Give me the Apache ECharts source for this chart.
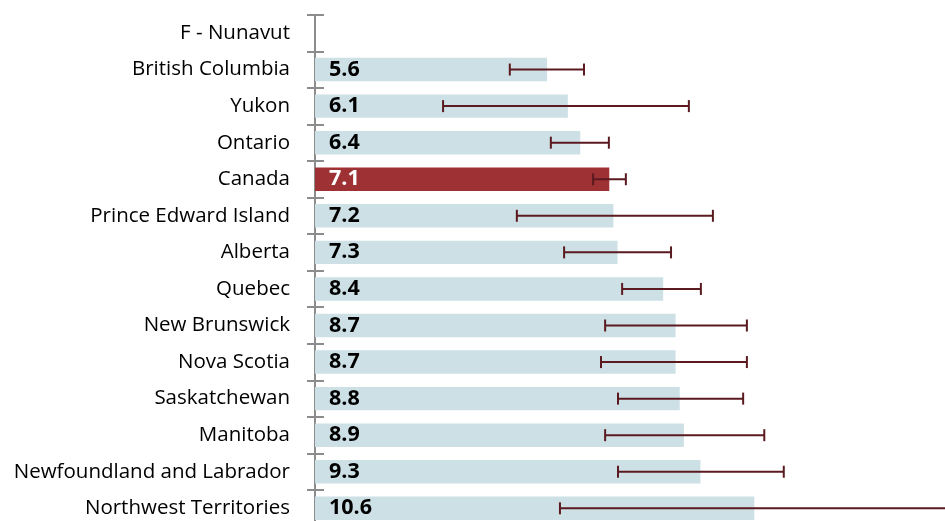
<!DOCTYPE html>
<html><head><meta charset="utf-8">
<script src="https://cdn.jsdelivr.net/npm/echarts@6/dist/echarts.min.js"></script>
<style>html,body{margin:0;padding:0;background:#fff}#c{width:945px;height:521px}</style>
</head><body><div id="c"></div>
<script>
const categories = ["F - Nunavut","British Columbia","Yukon","Ontario","Canada","Prince Edward Island","Alberta","Quebec","New Brunswick","Nova Scotia","Saskatchewan","Manitoba","Newfoundland and Labrador","Northwest Territories"];
const values = [null,5.6,6.1,6.4,7.1,7.2,7.3,8.4,8.7,8.7,8.8,8.9,9.3,10.6];
const lower = [null,4.70,3.09,5.69,6.71,4.87,6.01,7.41,7.00,6.90,7.31,7.00,7.31,5.91];
const upper = [null,6.49,9.02,7.09,7.50,9.60,8.59,9.31,10.42,10.42,10.33,10.84,11.31,16.0];
const highlight = "Canada";

const chart = echarts.init(document.getElementById('c'));
const barData = values.map((v,i)=>({
  value: v,
  itemStyle: {color: categories[i]===highlight ? '#9e3133' : '#cde0e6'},
  label: {color: categories[i]===highlight ? '#ffffff' : '#000000'}
}));
const errData = categories.map((c,i)=> lower[i]==null ? [i,null,null] : [i, lower[i], upper[i]]);
chart.setOption({
  animation:false,
  grid:{left:315,right:0,top:14.7,height:511.9,containLabel:false,outerBoundsMode:'none'},
  xAxis:{type:'value',min:0,max:15.2,show:false},
  yAxis:[{
    type:'category',data:categories,inverse:true,
    axisLine:{lineStyle:{color:'#8c8c8c',width:2}},
    axisTick:{show:true,length:8,lineStyle:{color:'#8c8c8c',width:2}},
    axisLabel:{fontFamily:'Open Sans',fontSize:20.5,color:'#000',margin:25}
  },{
    type:'category',data:categories,inverse:true,position:'left',
    axisLine:{show:false},
    axisTick:{show:true,inside:true,length:9,lineStyle:{color:'#8c8c8c',width:2}},
    axisLabel:{show:false}
  }],
  series:[{
    type:'bar',data:barData,barWidth:'64%',
    label:{show:true,position:'insideLeft',distance:14,fontFamily:'Open Sans',fontWeight:'bold',fontSize:21.5,
      formatter:p=>p.value==null?'':p.value.toFixed(1)}
  },{
    type:'custom',data:errData,clip:false,z:5,
    renderItem:(params,api)=>{
      const lo=api.value(1), hi=api.value(2);
      if(lo==null||isNaN(lo)) return;
      const a=api.coord([lo,api.value(0)]);
      const b=api.coord([hi,api.value(0)]);
      const h=6, s={stroke:'#5a1a1f',lineWidth:2};
      return {type:'group',children:[
        {type:'line',shape:{x1:a[0],y1:a[1],x2:b[0],y2:b[1]},style:s},
        {type:'line',shape:{x1:a[0],y1:a[1]-h,x2:a[0],y2:a[1]+h},style:s},
        {type:'line',shape:{x1:b[0],y1:b[1]-h,x2:b[0],y2:b[1]+h},style:s}
      ]};
    },
    encode:{x:[1,2],y:0}
  }]
});
</script></body></html>
